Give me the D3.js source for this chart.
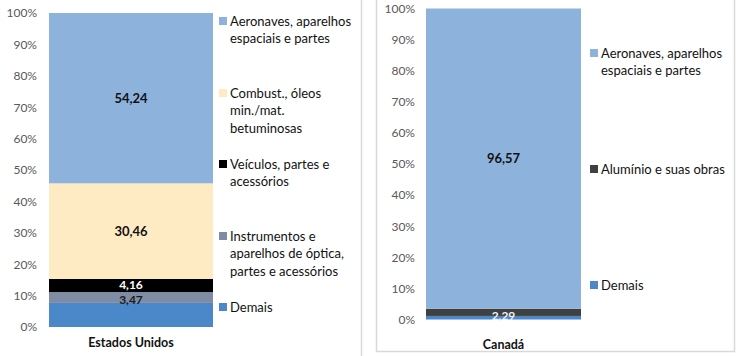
<!DOCTYPE html>
<html><head><meta charset="utf-8">
<script src="https://cdn.jsdelivr.net/npm/d3@7"></script>
<style>
html,body{margin:0;padding:0;background:#fff;}
svg{display:block;font-family:Lato,"Open Sans",sans-serif;}
</style></head>
<body><svg id="c" width="740" height="356"></svg>
<script>
// ---- data ----
const yTicks = [0, 10, 20, 30, 40, 50, 60, 70, 80, 90, 100];

const categoriesUS = ["Estados Unidos"];
const seriesUS = ["Demais", "Instrumentos", "Veículos", "Combust", "Aeronaves"];
const valuesUS = [7.67, 3.47, 4.16, 30.46, 54.24];
const shownUS = [false, true, true, true, true];
const legendUS = [
  ["Aeronaves, aparelhos", "espaciais e partes"],
  ["Combust., óleos", "min./mat.", "betuminosas"],
  ["Veículos, partes e", "acessórios"],
  ["Instrumentos e", "aparelhos de óptica,", "partes e acessórios"],
  ["Demais"]
];
const legendUSKeys = ["Aeronaves", "Combust", "Veículos", "Instrumentos", "Demais"];

const categoriesCA = ["Canadá"];
const seriesCA = ["Demais", "Alumínio", "Aeronaves"];
const valuesCA = [1.14, 2.29, 96.57];
const shownCA = [false, true, true];
const legendCA = [
  ["Aeronaves, aparelhos", "espaciais e partes"],
  ["Alumínio e suas obras"],
  ["Demais"]
];
const legendCAKeys = ["Aeronaves", "Alumínio", "Demais"];

// ---- styles ----
const colors = {
  "Aeronaves": "#8db3dc",
  "Combust": "#feebc4",
  "Veículos": "#000000",
  "Instrumentos": "#7f8ca4",
  "Demais": "#4a88c9",
  "Alumínio": "#404040"
};
const labelColors = {
  "Aeronaves": "#111", "Combust": "#111", "Veículos": "#fff",
  "Instrumentos": "#1a1a1a", "Alumínio": "#eef2f8", "Demais": "#111"
};

const svg = d3.select("#c");
const fmt = v => v.toFixed(2).replace(".", ",");

// panel borders
svg.append("line").attr("x1", 361.5).attr("x2", 361.5).attr("y1", 0).attr("y2", 356)
  .attr("stroke", "#d9d9d9").attr("stroke-width", 1.5);
svg.append("path").attr("d", "M376.5,0 V351.5 H734.5 V0")
  .attr("fill", "none").attr("stroke", "#d9d9d9").attr("stroke-width", 1.5);

function panel(cfg) {
  const g = svg.append("g");
  const y = d3.scaleLinear().domain([0, 100]).range([cfg.y0, cfg.y1]);
  const x = d3.scaleBand().domain(cfg.categories).range([cfg.x0, cfg.x1]).padding(0);

  const axis = d3.axisLeft(y).tickValues(yTicks).tickFormat(d => d + "%").tickSize(0).tickPadding(0);
  const ag = g.append("g").attr("transform", `translate(${cfg.tickX},0)`).call(axis);
  ag.select(".domain").remove();
  ag.selectAll("text").attr("font-size", 12).attr("fill", "#595959").attr("font-family", "Lato");

  const stackData = [Object.fromEntries(cfg.series.map((s, i) => [s, cfg.values[i]]))];
  const stacked = d3.stack().keys(cfg.series)(stackData);

  stacked.forEach((layer) => {
    const d = layer[0];
    g.append("rect")
      .attr("x", x(cfg.categories[0]))
      .attr("width", x.bandwidth())
      .attr("y", y(d[1]))
      .attr("height", y(d[0]) - y(d[1]))
      .attr("fill", colors[layer.key]);
  });
  stacked.forEach((layer, i) => {
    if (!cfg.shown[i]) return;
    const d = layer[0];
    g.append("text")
      .attr("x", x(cfg.categories[0]) + x.bandwidth() / 2)
      .attr("y", (y(d[0]) + y(d[1])) / 2 + (cfg.labelShift[i] || 0))
      .attr("dy", "0.35em")
      .attr("text-anchor", "middle")
      .attr("font-size", cfg.labelSize[i]).attr("font-weight", "bold")
      .attr("fill", labelColors[layer.key])
      .text(fmt(cfg.values[i]));
  });

  // category label
  g.append("text").attr("x", x(cfg.categories[0]) + x.bandwidth() / 2).attr("y", cfg.catY)
    .attr("text-anchor", "middle").attr("font-size", 12.5).attr("font-weight", "bold")
    .attr("fill", "#111").text(cfg.categories[0]);

  // legend
  cfg.legend.forEach((lines, i) => {
    const ly = cfg.legendY[i];
    g.append("rect").attr("x", cfg.legX).attr("y", ly - 4).attr("width", 8).attr("height", 8)
      .attr("fill", colors[cfg.legendKeys[i]]);
    const t = g.append("text").attr("x", cfg.legX + 11).attr("y", ly)
      .attr("font-size", 13).attr("fill", "#111");
    lines.forEach((l, j) => t.append("tspan").attr("x", cfg.legX + 11).attr("dy", j === 0 ? "0.35em" : 17.5).text(l));
  });
}

panel({
  categories: categoriesUS, series: seriesUS, values: valuesUS, shown: shownUS,
  labelShift: [0, 2, -1, 0, 0], labelSize: [12, 12, 12, 13, 13],
  x0: 49, x1: 213, y0: 327, y1: 13, tickX: 37, catY: 347,
  legend: legendUS, legendKeys: legendUSKeys, legX: 219,
  legendY: [21, 93, 164, 236, 307]
});
panel({
  categories: categoriesCA, series: seriesCA, values: valuesCA, shown: shownCA,
  labelShift: [0, 3, 0], labelSize: [12, 12, 13],
  x0: 426, x1: 581, y0: 319.5, y1: 8.5, tickX: 415, catY: 349,
  legend: legendCA, legendKeys: legendCAKeys, legX: 590,
  legendY: [53, 169, 285]
});
</script></body></html>
